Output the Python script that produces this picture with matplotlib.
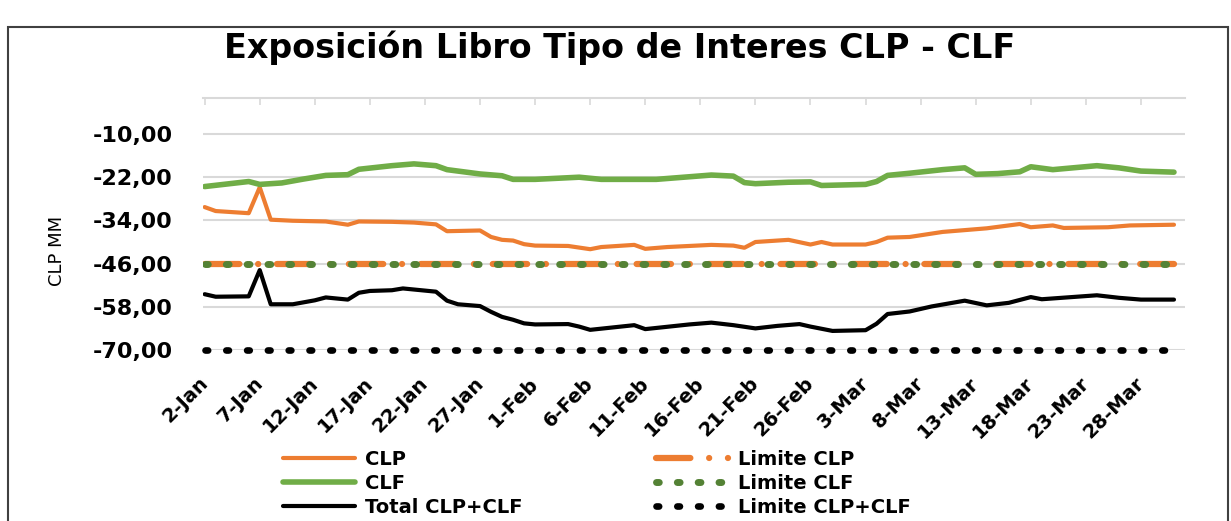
import matplotlib
matplotlib.use("Agg")
import matplotlib.pyplot as plt
import matplotlib.transforms as mtransforms
from matplotlib.patches import Rectangle

# days counted from 2-Jan
clp_days = [0, 1, 4, 5, 6, 8, 11, 13, 14, 17, 19, 21, 22, 25, 26, 27, 28, 29, 30, 33,
            35, 36, 39, 40, 42, 46, 48, 49, 50, 53, 55, 56, 57, 60, 61, 62, 64, 67, 71, 74,
            75, 77, 78, 82, 84, 88]
clp = [-30.3, -31.4, -32.0, -24.8, -33.8, -34.1, -34.3, -35.2, -34.3, -34.4,
       -34.6, -35.1, -37.0, -36.8, -38.6, -39.4, -39.6, -40.6, -41.0, -41.1,
       -42.0, -41.4, -40.8, -41.9, -41.4, -40.8, -41.0, -41.6, -40.0, -39.4,
       -40.7, -40.0, -40.7, -40.7, -40.0, -38.8, -38.6, -37.2, -36.2, -35.0,
       -35.9, -35.4, -36.1, -35.9, -35.4, -35.2]

clf_days = [0, 4, 5, 7, 9, 11, 13, 14, 17, 19, 21, 22, 25, 27, 28, 30, 34, 36, 41, 46,
            48, 49, 50, 53, 55, 56, 60, 61, 62, 64, 67, 69, 70, 72, 74, 75, 77, 81, 83, 85, 88]
clf = [-24.6, -23.2, -24.0, -23.6, -22.5, -21.5, -21.3, -19.8, -18.8, -18.3,
       -18.8, -19.9, -21.1, -21.6, -22.6, -22.6, -22.0, -22.6, -22.6, -21.4,
       -21.7, -23.5, -23.8, -23.4, -23.3, -24.3, -24.0, -23.2, -21.5, -20.9,
       -19.9, -19.4, -21.2, -21.0, -20.5, -19.1, -19.9, -18.8, -19.4, -20.3, -20.6]

total_days = [0, 1, 4, 5, 6, 8, 10, 11, 13, 14, 15, 17, 18, 21, 22, 23, 25, 26, 27, 28,
              29, 30, 33, 34, 35, 39, 40, 44, 46, 48, 50, 52, 54, 55, 57, 60, 61, 62, 64, 66,
              69, 71, 73, 75, 76, 81, 83, 85, 88]
total = [-54.5, -55.2, -55.1, -47.8, -57.3, -57.3, -56.2, -55.4, -56.0, -54.1,
         -53.6, -53.4, -52.9, -53.8, -56.3, -57.3, -57.8, -59.4, -60.8, -61.6,
         -62.6, -62.9, -62.8, -63.5, -64.4, -63.1, -64.2, -62.9, -62.4, -63.1,
         -64.0, -63.3, -62.8, -63.5, -64.7, -64.5, -62.7, -60.0, -59.3, -57.9,
         -56.3, -57.6, -56.9, -55.3, -55.9, -54.8, -55.5, -56.0, -56.0]

limit_days = [0, 88]
limite_clp = [-46.0, -46.0]
limite_clf = [-46.0, -46.0]
limite_total = [-70.0, -70.0]

tick_days = [0, 5, 10, 15, 20, 25, 30, 35, 40, 45, 50, 55, 60, 65, 70, 75, 80, 85]
tick_labels = ['2-Jan', '7-Jan', '12-Jan', '17-Jan', '22-Jan', '27-Jan', '1-Feb', '6-Feb',
               '11-Feb', '16-Feb', '21-Feb', '26-Feb', '3-Mar', '8-Mar', '13-Mar',
               '18-Mar', '23-Mar', '28-Mar']
y_ticks = [-70, -58, -46, -34, -22, -10]

orange = '#ED7D31'
green = '#70AD47'
dgreen = '#548235'

W, H = 1231, 521
fig = plt.figure(figsize=(W / 100, H / 100), dpi=100)
ax = fig.add_axes([203 / W, 1 - 350 / H, 982 / W, (350 - 98) / H])

ax.plot(clp_days, clp, color=orange, lw=3.0, solid_joinstyle='round', solid_capstyle='round', label='CLP')
ax.plot(clf_days, clf, color=green, lw=4.0, solid_joinstyle='round', solid_capstyle='round', label='CLF')
ax.plot(total_days, total, color='black', lw=3.0, solid_joinstyle='round', solid_capstyle='round',
        label='Total CLP+CLF')
ax.plot(limit_days, limite_clp, color=orange, lw=4.5, linestyle=(0, (5.5, 3.0, 0.01, 3.0)),
        dash_capstyle='round', label='Limite CLP')
ax.plot(limit_days, limite_clf, color=dgreen, lw=5.0, linestyle=(0, (0.4, 2.6)),
        dash_capstyle='round', label='Limite CLF')
ax.plot(limit_days, limite_total, color='black', lw=4.8, linestyle=(0, (0.4, 2.72)),
        dash_capstyle='round', label='Limite CLP+CLF', clip_on=False)

ax.set_xlim(-0.15, 89)
ax.set_ylim(-70, 0)
ax.set_yticks(y_ticks)
ax.set_yticklabels(['{:.2f}'.format(v).replace('.', ',') for v in y_ticks],
                   fontsize=16, fontweight='bold')
ax.tick_params(axis='y', length=0, pad=22)
ax.grid(axis='y', color='#D9D9D9', lw=1.5)
ax.set_axisbelow(True)

ax.set_xticks(tick_days)
ax.set_xticklabels(tick_labels, rotation=45, ha='right', fontsize=14, fontweight='bold')
ax.xaxis.set_ticks_position('top')
ax.tick_params(axis='x', direction='in', length=5, width=1.2, color='#D9D9D9',
               top=True, bottom=False, labeltop=False, labelbottom=True, pad=17)
shift = mtransforms.ScaledTranslation(0.07, 0, fig.dpi_scale_trans)
for lab in ax.get_xticklabels():
    lab.set_transform(lab.get_transform() + shift)

for s in ['left', 'right', 'bottom']:
    ax.spines[s].set_visible(False)
ax.spines['top'].set_color('#D9D9D9')
ax.spines['top'].set_linewidth(1.5)

ax.set_ylabel('CLP MM', fontsize=13)
ax.yaxis.set_label_coords(-0.140, 0.393)

fig.text(620 / W, 1 - 48 / H, 'Exposición Libro Tipo de Interes CLP - CLF',
         ha='center', va='center', fontsize=24, fontweight='bold')

handles, labels = ax.get_legend_handles_labels()
leg = fig.legend(handles, labels, ncol=2, loc='upper left',
                 bbox_to_anchor=(283 / W, 1 - 450 / H), frameon=False,
                 prop={'size': 14, 'weight': 'bold'}, handlelength=3.7, handletextpad=0.5,
                 columnspacing=6.9, labelspacing=0.25, borderpad=0, borderaxespad=0)

fig.patches.append(Rectangle((8 / W, -0.05), 1220 / W, 1 - 27 / H + 0.05,
                             transform=fig.transFigure, fill=False,
                             edgecolor='#404040', lw=1.5))

fig.savefig('out.png', dpi=100)
